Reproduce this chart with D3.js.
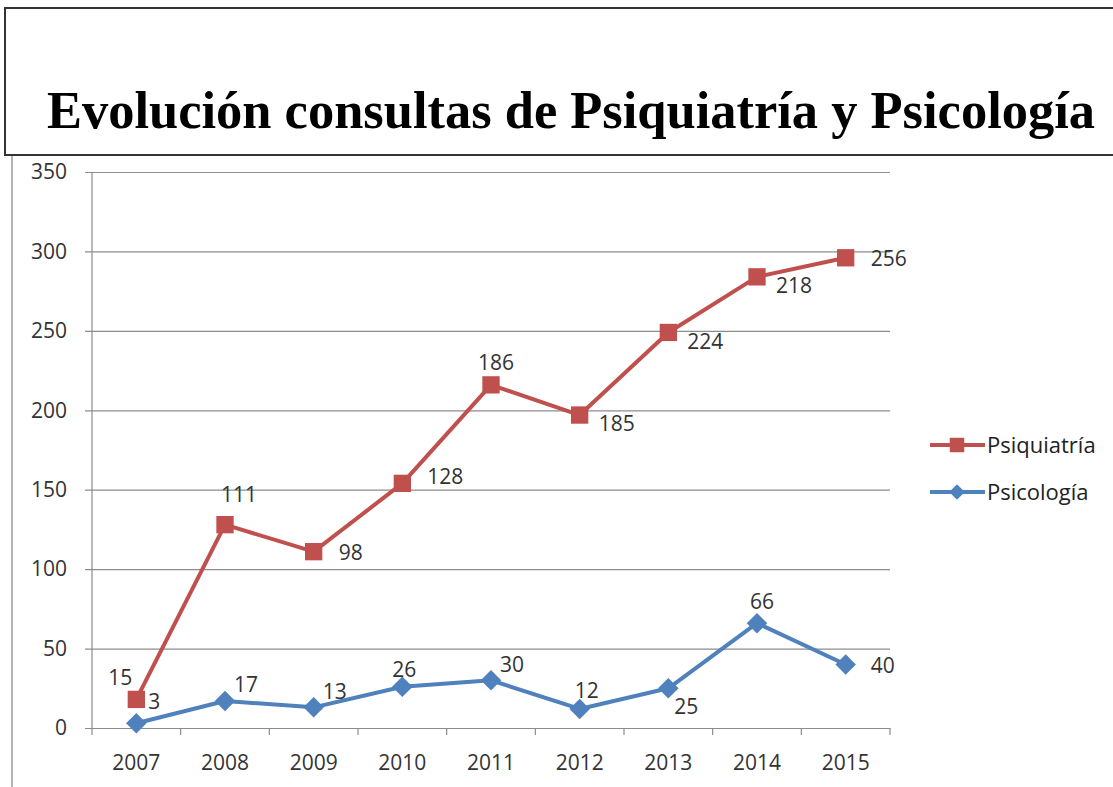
<!DOCTYPE html>
<html>
<head>
<meta charset="utf-8">
<script src="https://cdn.jsdelivr.net/npm/d3@7"></script>
<style>
  body { margin: 0; background: #ffffff; }
  svg { display: block; }
</style>
</head>
<body>
<svg id="chart" width="1113" height="787"></svg>
<script>
// data
const years = ['2007', '2008', '2009', '2010', '2011', '2012', '2013', '2014', '2015'];
const psiquiatria = [15, 111, 98, 128, 186, 185, 224, 218, 256];
const psicologia = [3, 17, 13, 26, 30, 12, 25, 66, 40];
const yTicks = [0, 50, 100, 150, 200, 250, 300, 350];
const seriesNames = ['Psiquiatría', 'Psicología'];

// where each data label sits relative to its marker
const psiqLabelPos = ['upleft', 'high', 'right', 'rightup', 'up', 'downright', 'downright', 'downright', 'right'];
const psicLabelPos = ['farup', 'upright', 'upright', 'uplow', 'upright', 'upleftish', 'below', 'up', 'right'];

const red = '#c0504d';
const blue = '#4f81bd';
const labelFont = '"Open Sans", sans-serif';

const svg = d3.select('#chart');
const plot = { left: 92, right: 890, top: 172, bottom: 728 };

// title box
svg.append('rect')
  .attr('x', 5).attr('y', 8)
  .attr('width', 1130).attr('height', 147)
  .attr('fill', '#ffffff')
  .attr('stroke', '#333333')
  .attr('stroke-width', 2);
svg.append('text')
  .attr('x', 47).attr('y', 128)
  .attr('textLength', 1048)
  .attr('lengthAdjust', 'spacingAndGlyphs')
  .style('font-family', '"Liberation Serif", "Times New Roman", serif')
  .style('font-weight', 'bold')
  .style('font-size', '52px')
  .attr('fill', '#000000')
  .text('Evolución consultas de Psiquiatría y Psicología');

// chart area left border
svg.append('line')
  .attr('x1', 12).attr('x2', 12)
  .attr('y1', 156).attr('y2', 787)
  .attr('stroke', '#999999')
  .attr('stroke-width', 1.5);

const x = d3.scaleBand()
  .domain(years)
  .range([plot.left, plot.right])
  .padding(0);
const y = d3.scaleLinear()
  .domain([0, 350])
  .range([plot.bottom, plot.top]);
const cx = d => x(d) + x.bandwidth() / 2;

// gridlines + y labels
const yAxis = svg.append('g')
  .attr('transform', `translate(${plot.left},0)`)
  .call(d3.axisLeft(y).tickValues(yTicks).tickSize(7).tickPadding(18));
yAxis.select('.domain').remove();
yAxis.selectAll('.tick line')
  .attr('x2', plot.right - plot.left)
  .attr('x1', -7)
  .attr('stroke', '#8c8c8c')
  .attr('stroke-width', 1.2);
yAxis.selectAll('.tick text')
  .style('font-family', labelFont)
  .style('font-size', '21px')
  .attr('fill', '#333333');

// y axis line
svg.append('line')
  .attr('x1', plot.left).attr('x2', plot.left)
  .attr('y1', plot.top).attr('y2', plot.bottom)
  .attr('stroke', '#8c8c8c')
  .attr('stroke-width', 1.2);

// x axis
const xAxis = svg.append('g')
  .attr('transform', `translate(0,${plot.bottom})`)
  .call(d3.axisBottom(x).tickSize(0).tickPadding(27));
xAxis.select('.domain')
  .attr('stroke', '#8c8c8c')
  .attr('stroke-width', 1.2);
xAxis.selectAll('.tick text')
  .style('font-family', labelFont)
  .style('font-size', '21px')
  .attr('fill', '#333333');
xAxis.selectAll('.bound')
  .data(years.concat(['end']))
  .join('line')
  .attr('x1', (d, i) => plot.left + i * x.bandwidth())
  .attr('x2', (d, i) => plot.left + i * x.bandwidth())
  .attr('y1', 0).attr('y2', 7)
  .attr('stroke', '#8c8c8c')
  .attr('stroke-width', 1.2);

// stacked lines: Psicología at the bottom, Psiquiatría on top
const rows = years.map((yr, i) => ({ year: yr, psic: psicologia[i], psiq: psiquiatria[i] }));
const stacked = d3.stack().keys(['psic', 'psiq'])(rows);

const line = d3.line()
  .x(d => cx(d.data.year))
  .y(d => y(d[1]));

// [dx, dy, anchor]
const offsets = {
  up: [5, -22, 'middle'],
  uplow: [2, -17, 'middle'],
  farup: [12, -22, 'start'],
  high: [-4, -30, 'start'],
  upleft: [-4, -22, 'end'],
  upleftish: [-5, -18, 'start'],
  upright: [9, -16, 'start'],
  right: [25, 1, 'start'],
  rightup: [25, -7, 'start'],
  downright: [19, 9, 'start'],
  below: [6, 18, 'start']
};

// both markers are squares; the diamond one is turned 45 degrees
const markerPath = size => d3.symbol().type(d3.symbolSquare).size(size)();
const markerRotate = kind => kind === 'square' ? 0 : 45;

const drawSeries = (layer, color, marker, values, placements) => {
  svg.append('path')
    .datum(layer)
    .attr('fill', 'none')
    .attr('stroke', color)
    .attr('stroke-width', 4)
    .attr('stroke-linejoin', 'round')
    .attr('d', line);
  svg.append('g')
    .selectAll('path')
    .data(layer)
    .join('path')
    .attr('transform', d => `translate(${cx(d.data.year)},${y(d[1])}) rotate(${markerRotate(marker)})`)
    .attr('d', markerPath(marker === 'square' ? 300 : 210))
    .attr('fill', color);
  svg.append('g')
    .selectAll('text')
    .data(layer)
    .join('text')
    .attr('x', (d, i) => cx(d.data.year) + offsets[placements[i]][0])
    .attr('y', (d, i) => y(d[1]) + offsets[placements[i]][1])
    .attr('dy', '0.35em')
    .attr('text-anchor', (d, i) => offsets[placements[i]][2])
    .style('font-family', labelFont)
    .style('font-size', '21px')
    .attr('fill', '#333333')
    .text((d, i) => values[i]);
};

drawSeries(stacked[1], red, 'square', psiquiatria, psiqLabelPos);
drawSeries(stacked[0], blue, 'diamond', psicologia, psicLabelPos);

// legend
const legend = svg.append('g').attr('transform', 'translate(930,445)');
const legendItems = [
  { name: seriesNames[0], color: red, marker: 'square' },
  { name: seriesNames[1], color: blue, marker: 'diamond' }
];
legendItems.forEach((item, i) => {
  const g = legend.append('g').attr('transform', `translate(0,${i * 47})`);
  g.append('line')
    .attr('x1', 0).attr('x2', 55)
    .attr('stroke', item.color)
    .attr('stroke-width', 4);
  g.append('path')
    .attr('transform', `translate(27,0) rotate(${markerRotate(item.marker)})`)
    .attr('d', markerPath(item.marker === 'square' ? 210 : 120))
    .attr('fill', item.color);
  g.append('text')
    .attr('x', 57)
    .attr('dy', '0.35em')
    .style('font-family', labelFont)
    .style('font-size', '22px')
    .attr('fill', '#222222')
    .text(item.name);
});
</script>
</body>
</html>
